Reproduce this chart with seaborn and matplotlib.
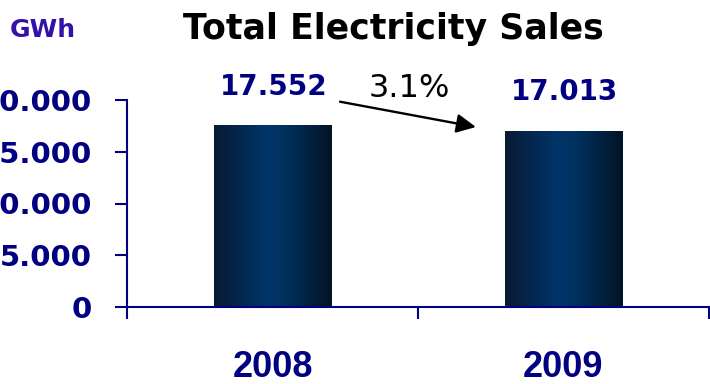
import os
import numpy as np
import pandas as pd
import matplotlib
matplotlib.use("Agg")
import matplotlib.pyplot as plt
import seaborn as sns
from matplotlib.colors import LinearSegmentedColormap
from matplotlib import font_manager as fm

# ---- data ----
years = ["2008", "2009"]
sales = [17552, 17013]
yticks = [0, 5000, 10000, 15000, 20000]
title = "Total Electricity Sales"
unit = "GWh"

NAVY = "#000080"
PURPLE = "#3311aa"

def fmt(v):
    return f"{int(v):,}".replace(",", ".")

sns.set_style("white")
plt.rcParams["font.family"] = ["DejaVu Sans"]

# Arial-like bold font for the category labels
xfont = fm.FontProperties(family="Liberation Sans", weight="bold", size=26)
for f in fm.findSystemFonts():
    if os.path.basename(f).lower() == "liberationsans-bold.ttf":
        xfont = fm.FontProperties(fname=f, size=26)
        break

df = pd.DataFrame({"Year": years, "Sales": sales})

fig = plt.figure(figsize=(7.1, 3.84), dpi=100)
ax = fig.add_axes([127 / 710, 1 - 307 / 384, 582 / 710, 207 / 384])

sns.barplot(data=df, x="Year", y="Sales", ax=ax, width=0.405,
            color=NAVY, linewidth=0, errorbar=None)

# gradient fill for bars
cmap = LinearSegmentedColormap.from_list(
    "barg", [(0, "#081a33"), (0.45, "#00356a"), (0.6, "#00315f"), (1, "#031426")])
grad = np.linspace(0, 1, 256).reshape(1, -1)
for p in list(ax.patches):
    x0, w, h = p.get_x(), p.get_width(), p.get_height()
    im = ax.imshow(grad, extent=[x0, x0 + w, 0, h], aspect="auto", cmap=cmap,
                   zorder=p.get_zorder() + 0.1, interpolation="bicubic")
    im.set_clip_path(p)
    p.set_facecolor("none")

ax.set_xlim(-0.5, 1.5)
ax.set_ylim(0, 20000)
ax.set_xlabel("")
ax.set_ylabel("")

# spines
for s in ["top", "right"]:
    ax.spines[s].set_visible(False)
for s in ["left", "bottom"]:
    ax.spines[s].set_color(NAVY)
    ax.spines[s].set_linewidth(1.5)

# y axis
ax.set_yticks(yticks)
ax.set_yticklabels([fmt(v) for v in yticks], fontsize=21, fontweight="bold",
                   color=NAVY, family="DejaVu Sans")
ax.tick_params(axis="y", which="major", length=8.6, width=1.5, color=NAVY,
               direction="out", pad=16.6, left=True)

# x axis
ax.set_xticks([0, 1])
ax.set_xticklabels(years, fontproperties=xfont, color=NAVY)
ax.tick_params(axis="x", which="major", length=0, pad=31)
ax.set_xticks([-0.5, 0.5, 1.5], minor=True)
ax.tick_params(axis="x", which="minor", length=8.6, width=1.5, color=NAVY,
               direction="out", bottom=True)

# value labels
for p, v in zip(ax.patches, sales):
    ax.annotate(fmt(v), xy=(p.get_x() + p.get_width() / 2, p.get_height()),
                xytext=(1, 22), textcoords="offset points", ha="center",
                va="baseline", fontsize=20, fontweight="bold", color=NAVY,
                annotation_clip=False)

# change annotation
pct = (sales[0] - sales[1]) / sales[0] * 100
ax.text(0.469, 20290, f"{pct:.1f}%", ha="center", va="baseline", fontsize=23,
        color="black", clip_on=False)
ax.annotate("", xy=(0.699, 17391), xytext=(0.232, 19836),
            arrowprops=dict(arrowstyle="-|>,head_length=0.65,head_width=0.32",
                            color="black", lw=1.7, mutation_scale=18,
                            shrinkA=0, shrinkB=0),
            annotation_clip=False)

# titles
fig.text(393 / 710, 1 - 39 / 384, title, ha="center", va="baseline",
         fontsize=25, fontweight="bold", color="black")
fig.text(43 / 710, 1 - 37 / 384, unit, ha="center", va="baseline",
         fontsize=18, fontweight="bold", color=PURPLE)

fig.savefig("out.png", dpi=100)
